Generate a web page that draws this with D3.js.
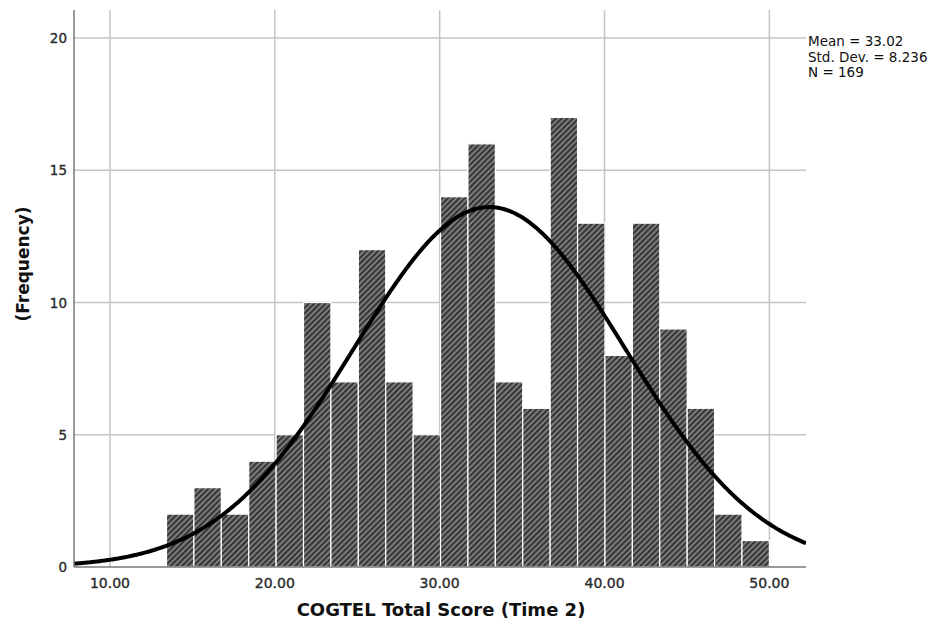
<!DOCTYPE html>
<html>
<head>
<meta charset="utf-8">
<script src="https://cdn.jsdelivr.net/npm/d3@7"></script>
<style>
  body { margin: 0; background: #fff; }
  text { font-family: "DejaVu Sans", sans-serif; }
</style>
</head>
<body>
<div id="chart"></div>
<script>
// histogram counts, one per bin (22 bins)
const counts = [2, 3, 2, 4, 5, 10, 7, 12, 7, 5, 14, 16, 7, 6, 17, 13, 8, 13, 9, 6, 2, 1];
const binStart = 13.43;
const binEnd = 50;
const xTicks = [10, 20, 30, 40, 50];
const yTicks = [0, 5, 10, 15, 20];
const stats = { mean: 33.02, sd: 8.236, n: 169 };
const statLines = ["Mean = 33.02", "Std. Dev. = 8.236", "N = 169"];

const width = 936, height = 629;
const margin = { left: 74, right: 130, top: 10, bottom: 62 };

const svg = d3.select('#chart').append('svg')
    .attr('width', width)
    .attr('height', height);

const x = d3.scaleLinear()
    .domain([7.82, 52.22])
    .range([margin.left, width - margin.right]);

const y = d3.scaleLinear()
    .domain([0, 21.06])
    .range([height - margin.bottom, margin.top]);

const binW = (binEnd - binStart) / counts.length;
const bins = counts.map((c, i) => ({ x0: binStart + i * binW, x1: binStart + (i + 1) * binW, c }));

// hatch pattern
const defs = svg.append('defs');
const pat = defs.append('pattern')
    .attr('id', 'hatch')
    .attr('patternUnits', 'userSpaceOnUse')
    .attr('width', 4)
    .attr('height', 4)
    .attr('patternTransform', 'rotate(45)');
pat.append('rect').attr('width', 4).attr('height', 4).attr('fill', '#7a7a7a');
pat.append('rect').attr('width', 1.7).attr('height', 4).attr('fill', '#2a2a2a');

defs.append('clipPath').attr('id', 'plotclip')
  .append('rect')
    .attr('x', margin.left)
    .attr('y', margin.top)
    .attr('width', width - margin.right - margin.left)
    .attr('height', height - margin.bottom - margin.top);

// gridlines
svg.append('g')
    .selectAll('line')
    .data(yTicks.filter(d => d > 0))
  .enter().append('line')
    .attr('x1', margin.left)
    .attr('x2', width - margin.right)
    .attr('y1', d => y(d))
    .attr('y2', d => y(d))
    .style('stroke', '#c4c4c4')
    .style('stroke-width', 1.5);

svg.append('g')
    .selectAll('line')
    .data(xTicks)
  .enter().append('line')
    .attr('x1', d => x(d))
    .attr('x2', d => x(d))
    .attr('y1', margin.top)
    .attr('y2', height - margin.bottom)
    .style('stroke', '#c4c4c4')
    .style('stroke-width', 1.5);

// bars
svg.append('g')
    .selectAll('rect')
    .data(bins)
  .enter().append('rect')
    .attr('x', d => x(d.x0))
    .attr('y', d => y(d.c))
    .attr('width', d => x(d.x1) - x(d.x0))
    .attr('height', d => y(0) - y(d.c))
    .style('fill', 'url(#hatch)')
    .style('stroke', '#fff')
    .style('stroke-width', 1.2);

// normal curve
const scale = stats.n * binW;
const pts = d3.range(x.domain()[0], x.domain()[1] + 0.01, 0.1).map(v =>
    [v, scale * Math.exp(-0.5 * ((v - stats.mean) / stats.sd) ** 2) / (stats.sd * Math.sqrt(2 * Math.PI))]);

svg.append('path')
    .datum(pts)
    .attr('clip-path', 'url(#plotclip)')
    .attr('d', d3.line().x(d => x(d[0])).y(d => y(d[1])).curve(d3.curveBasis))
    .style('fill', 'none')
    .style('stroke', '#000')
    .style('stroke-width', 4);

// axes lines
svg.append('line')
    .attr('x1', margin.left).attr('x2', margin.left)
    .attr('y1', margin.top).attr('y2', height - margin.bottom)
    .style('stroke', '#777').style('stroke-width', 1.5);
svg.append('line')
    .attr('x1', margin.left).attr('x2', width - margin.right)
    .attr('y1', y(0)).attr('y2', y(0))
    .style('stroke', '#777').style('stroke-width', 1.5);

// tick labels
svg.append('g')
    .selectAll('text')
    .data(yTicks)
  .enter().append('text')
    .attr('x', margin.left - 7)
    .attr('y', d => y(d) + 5)
    .attr('text-anchor', 'end')
    .attr('font-size', '13.5px')
    .attr('fill', '#2a2a2a')
    .attr('stroke', '#2a2a2a')
    .attr('stroke-width', 0.35)
    .text(d => d);

svg.append('g')
    .selectAll('text')
    .data(xTicks)
  .enter().append('text')
    .attr('x', d => x(d))
    .attr('y', 588)
    .attr('text-anchor', 'middle')
    .attr('font-size', '14px')
    .attr('fill', '#2a2a2a')
    .attr('stroke', '#2a2a2a')
    .attr('stroke-width', 0.35)
    .text(d => d.toFixed(2));

// axis titles
svg.append('text')
    .attr('x', 441)
    .attr('y', 616)
    .attr('text-anchor', 'middle')
    .attr('font-size', '18px')
    .attr('font-weight', 'bold')
    .attr('fill', '#111')
    .text('COGTEL Total Score (Time 2)');

svg.append('text')
    .attr('transform', 'translate(29,264) rotate(-90)')
    .attr('text-anchor', 'middle')
    .attr('font-size', '17px')
    .attr('font-weight', 'bold')
    .attr('fill', '#111')
    .text('(Frequency)');

// stats box
svg.append('g')
    .selectAll('text')
    .data(statLines)
  .enter().append('text')
    .attr('x', 808)
    .attr('y', (d, i) => 46 + i * 15.5)
    .attr('font-size', '13.5px')
    .attr('fill', '#111')
    .text(d => d);
</script>
</body>
</html>
